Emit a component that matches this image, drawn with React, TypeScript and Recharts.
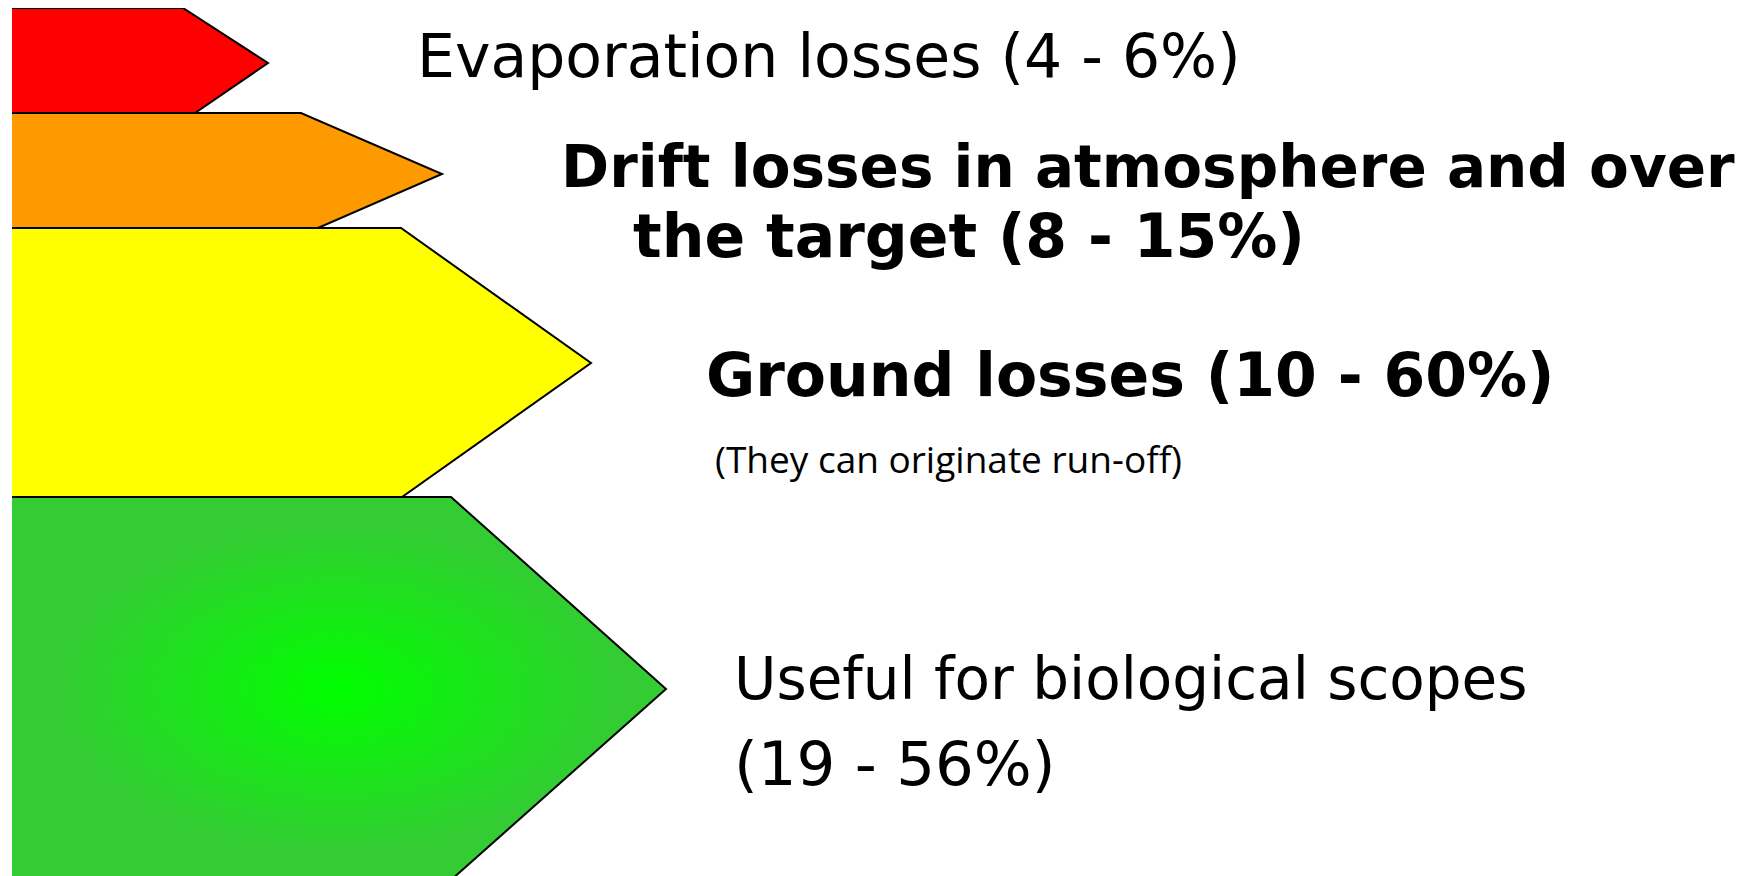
import React from 'react';
import { ComposedChart, Area, XAxis, YAxis } from 'recharts';

// one arrow per fate of the sprayed liquid, top to bottom
const bandKeys = ['evaporation', 'drift', 'ground', 'useful'];
const bandColors = ['#ff0000', '#ff9900', '#ffff00', 'url(#usefulGlow)'];

// vertical extent of each arrow (measured down from the top of the stack)
const bandTop = [0, 105, 220, 489];
const bandTipLevel = [55, 166, 355, 681];
const bandBottom = [105, 220, 489, 872];

// how far right each arrow reaches
const shoulderTop = [171, 289, 389, 439];
const tipReach = [256, 430, 579, 654];
const shoulderBottom = [183, 306, 390, 439];

const evaporationLines = ['Evaporation losses (4 - 6%)'];
const driftLines = ['Drift losses in atmosphere and over', 'the target (8 - 15%)'];
const groundLines = ['Ground losses (10 - 60%)'];
const groundNote = '(They can originate run-off)';
const usefulLines = ['Useful for biological scopes', '(19 - 56%)'];

// outline of every arrow as a run of points; a missing key breaks the area
const rows = bandKeys.flatMap((key, i) => [
  { y: bandTop[i], [key]: 0 },
  { y: bandTop[i], [key]: shoulderTop[i] },
  { y: bandTipLevel[i], [key]: tipReach[i] },
  { y: bandBottom[i], [key]: shoulderBottom[i] },
  { y: bandBottom[i], [key]: 0 },
]);

const W = 1752;
const H = 876;
const sans = '"DejaVu Sans", Verdana, sans-serif';

const App = () => {
  return (
    <div style={{ position: 'absolute', left: 0, top: 0, background: '#fff' }}>
      <ComposedChart
        width={W}
        height={H}
        data={rows}
        layout="vertical"
        margin={{ top: 8, right: 0, bottom: 0, left: 12 }}
      >
        <defs>
          <radialGradient id="usefulGlow" cx="50%" cy="50%" r="50%">
            <stop offset="0%" stopColor="#00ff00" />
            <stop offset="85%" stopColor="#33cc33" />
            <stop offset="100%" stopColor="#33cc33" />
          </radialGradient>
        </defs>
        <XAxis type="number" domain={[0, W - 12]} allowDataOverflow hide />
        <YAxis
          type="number"
          dataKey="y"
          domain={[0, H - 8]}
          allowDataOverflow
          width={0}
          tick={false}
          tickLine={false}
          axisLine={{ stroke: '#000', strokeWidth: 2 }}
        />
        {bandKeys.map((key, i) => (
          <Area
            key={key}
            type="linear"
            dataKey={key}
            fill={bandColors[i]}
            fillOpacity={1}
            stroke="#000"
            strokeWidth={2}
            dot={false}
            activeDot={false}
            isAnimationActive={false}
          />
        ))}

        <text x={417} y={77} fontFamily={sans} fontSize={60} fill="#000">
          {evaporationLines[0]}
        </text>
        <text x={561} y={187} fontFamily={sans} fontSize={58} fontWeight="bold" fill="#000">
          {driftLines[0]}
        </text>
        <text x={633} y={257} fontFamily={sans} fontSize={60} fontWeight="bold" fill="#000">
          {driftLines[1]}
        </text>
        <text x={706} y={396} fontFamily={sans} fontSize={60} fontWeight="bold" fill="#000">
          {groundLines[0]}
        </text>
        <text x={715} y={473} fontFamily='"Open Sans", sans-serif' fontSize={37} fill="#000">
          {groundNote}
        </text>
        <text x={734} y={699} fontFamily={sans} fontSize={58} fill="#000">
          {usefulLines[0]}
        </text>
        <text x={734} y={785} fontFamily={sans} fontSize={61} fill="#000">
          {usefulLines[1]}
        </text>
      </ComposedChart>
    </div>
  );
};

export default App;
